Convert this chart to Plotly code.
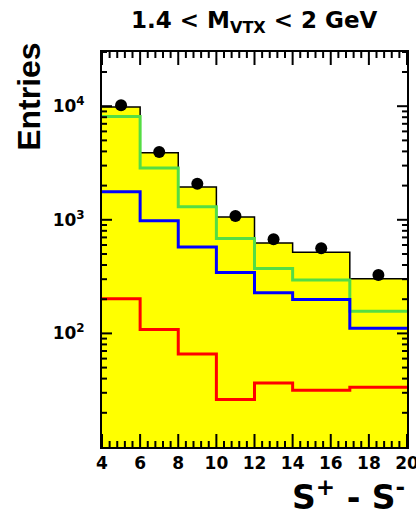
import numpy as np
import plotly.graph_objects as go

# Bin edges of S+ - S- and per-bin contents
edges = [4, 6, 8, 10, 12, 14, 17, 20]
data_vals = [10200, 3950, 2075, 1080, 675, 561, 327]
total_mc = [9860, 3900, 1946, 1059, 624, 519, 303]
green_vals = [8110, 2862, 1300, 683, 372, 295, 157]
blue_vals = [1770, 980, 575, 343, 228, 199, 111]
red_vals = [202, 108, 66, 26.2, 36.5, 31.6, 33.6]

x_min, x_max = 4, 20
y_min, y_max = 10, 3.0e4
major_x = list(range(4, 21, 2))
major_y = [100, 1000, 10000]
major_y_text = ["10<sup>2</sup>", "10<sup>3</sup>", "10<sup>4</sup>"]

centers = [(a + b) / 2 for a, b in zip(edges[:-1], edges[1:])]


def step_y(vals):
    return list(vals) + [vals[-1]]


fig = go.Figure()

# total expectation: yellow filled histogram with black outline
fig.add_trace(go.Scatter(
    x=edges, y=step_y(total_mc), mode="lines", line_shape="hv",
    fill="tozeroy", fillcolor="#FFFF00",
    line=dict(color="black", width=1.5), hoverinfo="skip"))

for vals, col in [(green_vals, "#55DD44"), (blue_vals, "#0000FF"), (red_vals, "#FF0000")]:
    fig.add_trace(go.Scatter(
        x=edges, y=step_y(vals), mode="lines", line_shape="hv",
        line=dict(color=col, width=3), hoverinfo="skip"))

fig.add_trace(go.Scatter(
    x=centers, y=data_vals, mode="markers",
    marker=dict(color="black", size=12, symbol="circle")))


# frame tick marks on all four sides, pointing into the plot (paper coordinates)
def x_frac(v):
    return (v - x_min) / (x_max - x_min)


def y_frac(v):
    return (np.log10(v) - np.log10(y_min)) / (np.log10(y_max) - np.log10(y_min))


tick_line = dict(color="black", width=2)
shapes = []
minor_x = [v for v in np.arange(x_min, x_max + 1e-9, 0.4)
           if min(abs(v - m) for m in major_x) > 1e-6]
for xs, ln in [(major_x, 13), (minor_x, 6)]:
    for xv in xs:
        for anchor, sign in [(0, 1), (1, -1)]:
            shapes.append(dict(type="line", xref="paper", yref="paper",
                               x0=x_frac(xv), x1=x_frac(xv),
                               ysizemode="pixel", yanchor=anchor, y0=0, y1=sign * ln,
                               line=tick_line, layer="above"))
minor_y = [m * 10 ** d for d in range(1, 5) for m in range(2, 10) if m * 10 ** d <= y_max]
for ys, ln in [(major_y, 10), (minor_y, 5)]:
    for yv in ys:
        for anchor, sign in [(0, 1), (1, -1)]:
            shapes.append(dict(type="line", xref="paper", yref="paper",
                               y0=y_frac(yv), y1=y_frac(yv),
                               xsizemode="pixel", xanchor=anchor, x0=0, x1=sign * ln,
                               line=tick_line, layer="above"))

tick_font = dict(family="DejaVu Sans", size=17, color="black", weight="bold")

fig.update_layout(
    width=416, height=521,
    margin=dict(l=102, r=9, t=52, b=74),
    paper_bgcolor="white", plot_bgcolor="white",
    showlegend=False,
    shapes=shapes,
    xaxis=dict(
        range=[x_min, x_max], tickvals=major_x, ticks="",
        showline=True, linecolor="black", linewidth=2, mirror=True,
        showgrid=False, zeroline=False, tickfont=tick_font,
        ticklabeloverflow="allow", automargin=False,
    ),
    yaxis=dict(
        type="log", range=[np.log10(y_min), np.log10(y_max)],
        tickvals=major_y, ticktext=major_y_text, ticks="",
        showline=True, linecolor="black", linewidth=2, mirror=True,
        showgrid=False, zeroline=False, tickfont=tick_font, ticklabelstandoff=12,
        automargin=False,
    ),
    annotations=[
        dict(text="1.4 < M<sub>VTX</sub> < 2 GeV", xref="paper", yref="paper",
             x=0.5, y=1.0, yshift=30, xanchor="center", yanchor="middle", showarrow=False,
             font=dict(family="DejaVu Sans", size=23, color="black", weight="bold")),
        dict(text="Entries", xref="paper", yref="paper",
             x=-0.24, y=0.886, textangle=-90, xanchor="center", yanchor="middle", showarrow=False,
             font=dict(family="Liberation Sans", size=32, color="black", weight="bold")),
        dict(text="S<sup>+</sup> - S<sup>-</sup>", xref="paper", yref="paper",
             x=1.0, y=-0.122, xanchor="right", yanchor="middle", showarrow=False,
             font=dict(family="DejaVu Sans", size=33, color="black", weight="bold")),
    ],
)

fig.write_html("out.html")
